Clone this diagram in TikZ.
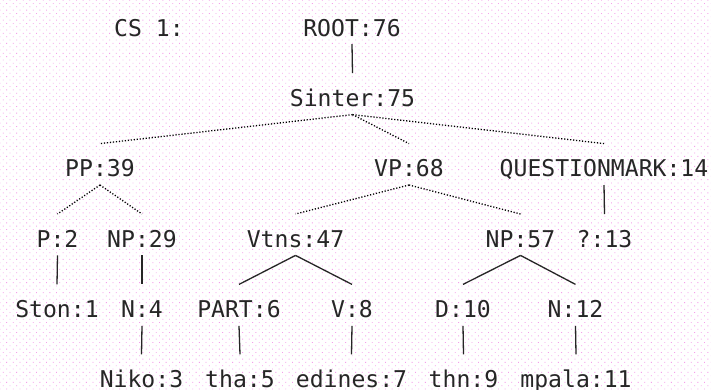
\documentclass[tikz,border=0pt]{standalone}
\usepackage{fontspec}
\newfontfamily\lbfont{DejaVu Sans Mono}
\usetikzlibrary{patterns.meta}
\definecolor{dotpink}{rgb}{0.96,0.62,0.92}
\tikzset{
  lbl/.style={font={\lbfont\fontsize{23.1}{24}\selectfont}, text=black!85, inner sep=0pt,
    text height=18pt, text depth=0pt, anchor=base},
  solidedge/.style={line width=1.3pt, black!85},
  dotedge/.style={line width=1.3pt, black, dash pattern=on 1.2pt off 1.8pt},
}
\newcommand{\edgeX}[3]{\draw[#1] ([yshift=-8pt]#2.south) -- ([yshift=15pt]#3.north);}
\begin{document}
\begin{tikzpicture}[x=1pt,y=-1pt]
\useasboundingbox (0,0) rectangle (711,389);
\fill[white] (0,0) rectangle (711,389);
\fill[pattern={Dots[distance=4.7pt, angle=45, radius=0.6pt]}, pattern color=dotpink] (0,0) rectangle (711,389);
% row 1
\node[lbl] (cs) at (149,36) {CS 1:};
\node[lbl] (root) at (352,36) {ROOT:76};
% row 2
\node[lbl] (sinter) at (352.5,106.4) {Sinter:75};
% row 3
\node[lbl] (pp) at (100,176.8) {PP:39};
\node[lbl] (vp) at (409,176.8) {VP:68};
\node[lbl] (qm) at (604,176.8) {QUESTIONMARK:14};
% row 4
\node[lbl] (p2) at (57.5,247.2) {P:2};
\node[lbl] (np29) at (142,247.2) {NP:29};
\node[lbl] (vtns) at (295.5,247.2) {Vtns:47};
\node[lbl] (np57) at (520.5,247.2) {NP:57};
\node[lbl] (q13) at (604.5,247.2) {?:13};
% row 5
\node[lbl] (ston) at (57,317.6) {Ston:1};
\node[lbl] (n4) at (142,317.6) {N:4};
\node[lbl] (part) at (239,317.6) {PART:6};
\node[lbl] (v8) at (352,317.6) {V:8};
\node[lbl] (d10) at (463,317.6) {D:10};
\node[lbl] (n12) at (575.5,317.6) {N:12};
% row 6
\node[lbl] (niko) at (141.5,387.5) {Niko:3};
\node[lbl] (tha) at (240,387.5) {tha:5};
\node[lbl] (edines) at (351.5,387.5) {edines:7};
\node[lbl] (thn) at (463.5,387.5) {thn:9};
\node[lbl] (mpala) at (576,387.5) {mpala:11};
% edges
\edgeX{solidedge}{root}{sinter}
\edgeX{dotedge}{sinter}{pp}
\edgeX{dotedge}{sinter}{vp}
\edgeX{dotedge}{sinter}{qm}
\edgeX{dotedge}{pp}{p2}
\edgeX{dotedge}{pp}{np29}
\edgeX{dotedge}{vp}{vtns}
\edgeX{dotedge}{vp}{np57}
\edgeX{solidedge}{qm}{q13}
\edgeX{solidedge}{p2}{ston}
\edgeX{solidedge}{np29}{n4}
\edgeX{solidedge}{vtns}{part}
\edgeX{solidedge}{vtns}{v8}
\edgeX{solidedge}{np57}{d10}
\edgeX{solidedge}{np57}{n12}
\edgeX{solidedge}{n4}{niko}
\edgeX{solidedge}{part}{tha}
\edgeX{solidedge}{v8}{edines}
\edgeX{solidedge}{d10}{thn}
\edgeX{solidedge}{n12}{mpala}
\end{tikzpicture}
\end{document}
